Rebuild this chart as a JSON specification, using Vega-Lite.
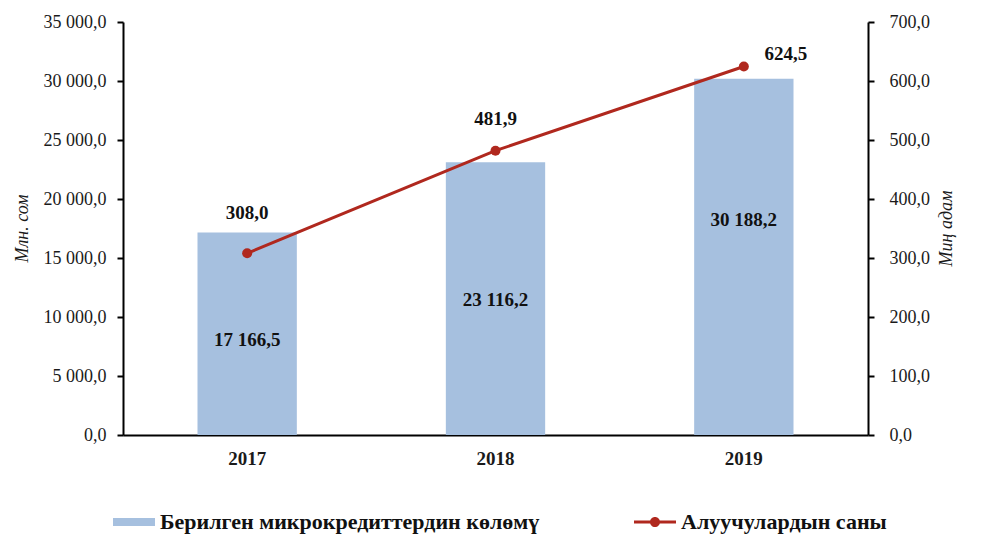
{
  "$schema": "https://vega.github.io/schema/vega-lite/v6.json",
  "width": 745,
  "height": 413,
  "autosize": "none",
  "padding": {"left": 123, "top": 22, "right": 115, "bottom": 111},
  "background": "white",
  "config": {
    "locale": {"number": {"decimal": ",", "thousands": " ", "grouping": [3], "currency": ["", ""]}},
    "view": {"stroke": null},
    "font": "Liberation Serif",
    "axis": {
      "labelFont": "Liberation Serif",
      "titleFont": "Liberation Serif",
      "labelColor": "#1a1a1a",
      "titleColor": "#1a1a1a",
      "domainColor": "black",
      "tickColor": "black",
      "grid": false
    }
  },
  "data": {
    "values": [
      {"year": "2017", "credit": 17166.5, "borrowers": 308.0},
      {"year": "2018", "credit": 23116.2, "borrowers": 481.9},
      {"year": "2019", "credit": 30188.2, "borrowers": 624.5}
    ]
  },
  "encoding": {
    "x": {
      "field": "year",
      "type": "nominal",
      "scale": {"paddingInner": 0.6, "paddingOuter": 0.3},
      "axis": {
        "title": null,
        "labelAngle": 0,
        "labelFontSize": 19,
        "labelFontWeight": "bold",
        "labelPadding": 14,
        "ticks": false,
        "domainWidth": 2
      }
    }
  },
  "layer": [
    {
      "encoding": {
        "y": {
          "field": "credit",
          "type": "quantitative",
          "scale": {"domain": [0, 35000], "nice": false},
          "axis": {
            "title": "Млн. сом",
            "titleFontStyle": "italic",
            "titleFontWeight": "normal",
            "titleFontSize": 18,
            "titleAngle": -90,
            "titleX": -101,
            "titleY": 206,
            "titleBaseline": "middle",
            "titleAlign": "center",
            "values": [0, 5000, 10000, 15000, 20000, 25000, 30000, 35000],
            "format": ",.1f",
            "labelFontSize": 18,
            "labelPadding": 11,
            "tickSize": 6,
            "tickWidth": 2,
            "domainWidth": 2
          }
        }
      },
      "layer": [
        {
          "mark": {"type": "bar", "color": "#A6C0DF"},
          "encoding": {
            "color": {
              "datum": "Берилген микрокредиттердин көлөмү",
              "type": "nominal",
              "scale": {
                "domain": ["Берилген микрокредиттердин көлөмү", "Алуучулардын саны"],
                "range": ["#A6C0DF", "#B0281E"]
              },
              "legend": {
                "title": null,
                "orient": "none",
                "direction": "horizontal",
                "legendX": -10,
                "legendY": 479,
                "padding": 0,
                "symbolSize": 1764,
                "labelOffset": 5,
                "columnPadding": 94,
                "labelLimit": 0,
                "labelFont": "Liberation Serif",
                "labelFontSize": 22,
                "labelFontWeight": "bold",
                "labelColor": "#111",
                "encode": {
                  "symbols": {
                    "update": {
                      "shape": {"signal": "datum.value == 'Алуучулардын саны' ? 'M-1,-0.07H1V0.07H-1Z M-0.24,0A0.24,0.24,0,1,1,0.24,0A0.24,0.24,0,1,1,-0.24,0Z' : 'M-1,-0.19H1V0.19H-1Z'"},
                      "fill": {"signal": "scale('color', datum.value)"},
                      "strokeWidth": {"value": 0},
                      "opacity": {"value": 1},
                      "fillOpacity": {"value": 1}
                    }
                  }
                }
              }
            }
          }
        },
        {
          "transform": [{"filter": "datum.year == '2017'"}],
          "mark": {"type": "text", "fontSize": 19, "fontWeight": "bold", "baseline": "middle", "dy": 108, "color": "#111"},
          "encoding": {"text": {"field": "credit", "type": "quantitative", "format": ",.1f"}}
        },
        {
          "transform": [{"filter": "datum.year == '2018'"}],
          "mark": {"type": "text", "fontSize": 19, "fontWeight": "bold", "baseline": "middle", "dy": 138, "color": "#111"},
          "encoding": {"text": {"field": "credit", "type": "quantitative", "format": ",.1f"}}
        },
        {
          "transform": [{"filter": "datum.year == '2019'"}],
          "mark": {"type": "text", "fontSize": 19, "fontWeight": "bold", "baseline": "middle", "dy": 141, "color": "#111"},
          "encoding": {"text": {"field": "credit", "type": "quantitative", "format": ",.1f"}}
        }
      ]
    },
    {
      "encoding": {
        "y": {
          "field": "borrowers",
          "type": "quantitative",
          "scale": {"domain": [0, 700], "nice": false},
          "axis": {
            "orient": "right",
            "title": "Миң адам",
            "titleFontStyle": "italic",
            "titleFontWeight": "normal",
            "titleFontSize": 18,
            "titleAngle": -90,
            "titleX": 78,
            "titleY": 206,
            "titleBaseline": "middle",
            "titleAlign": "center",
            "values": [0, 100, 200, 300, 400, 500, 600, 700],
            "format": ",.1f",
            "labelFontSize": 18,
            "labelPadding": 15,
            "tickSize": 6,
            "tickWidth": 2,
            "domainWidth": 2
          }
        }
      },
      "layer": [
        {
          "mark": {"type": "line", "color": "#B0281E", "strokeWidth": 3, "point": {"filled": true, "size": 100, "color": "#B0281E"}},
          "encoding": {
            "color": {"datum": "Алуучулардын саны", "type": "nominal"}
          }
        },
        {
          "transform": [{"filter": "datum.year == '2017'"}],
          "mark": {"type": "text", "fontSize": 19, "fontWeight": "bold", "baseline": "middle", "dy": -40, "color": "#111"},
          "encoding": {"text": {"field": "borrowers", "type": "quantitative", "format": ",.1f"}}
        },
        {
          "transform": [{"filter": "datum.year == '2018'"}],
          "mark": {"type": "text", "fontSize": 19, "fontWeight": "bold", "baseline": "middle", "dy": -32, "color": "#111"},
          "encoding": {"text": {"field": "borrowers", "type": "quantitative", "format": ",.1f"}}
        },
        {
          "transform": [{"filter": "datum.year == '2019'"}],
          "mark": {"type": "text", "fontSize": 19, "fontWeight": "bold", "baseline": "middle", "dy": -13, "dx": 42, "color": "#111"},
          "encoding": {"text": {"field": "borrowers", "type": "quantitative", "format": ",.1f"}}
        }
      ]
    }
  ],
  "resolve": {"scale": {"y": "independent"}}
}
